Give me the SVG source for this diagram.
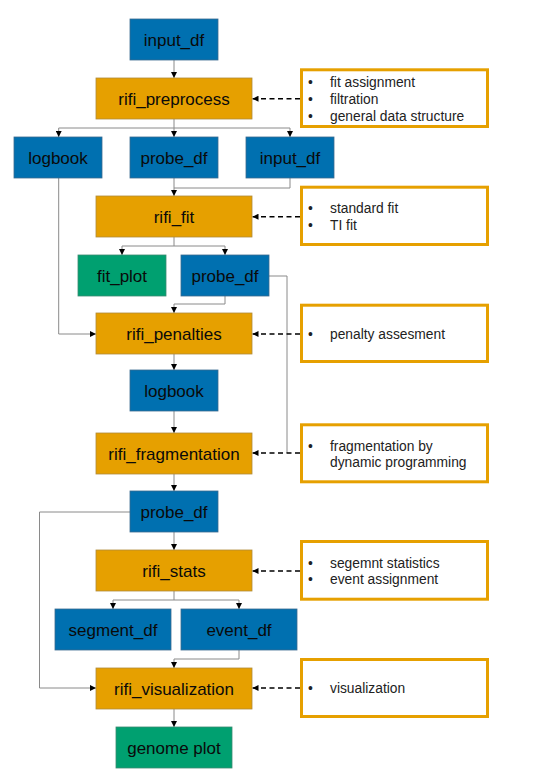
<svg xmlns="http://www.w3.org/2000/svg" width="534" height="781" viewBox="0 0 534 781">
<defs>
<marker id="ah" viewBox="0 0 10 10" refX="10" refY="5" markerWidth="6" markerHeight="6" markerUnits="userSpaceOnUse" orient="auto">
<path d="M0,0 L10,5 L0,10 z" fill="#000"/>
</marker>
<style>
.blue{fill:#0070B0;stroke:#3A6A90;stroke-width:0.8}
.orange{fill:#E6A000;stroke:#B08A3A;stroke-width:0.8}
.green{fill:#00A070;stroke:#3A8A70;stroke-width:0.8}
.side{fill:#fff;stroke:#E6A000;stroke-width:3}
.lbl{font-family:"Liberation Sans",Arial,sans-serif;font-size:17px;fill:#0a0a0a;text-anchor:middle}
.st{font-family:"Liberation Sans",Arial,sans-serif;font-size:13.8px;fill:#222}
.c{fill:none;stroke:#8a8a8a;stroke-width:1}
.ca{fill:none;stroke:#8a8a8a;stroke-width:1;marker-end:url(#ah)}
.d{fill:none;stroke:#000;stroke-width:1.5;stroke-dasharray:5,3.5;marker-end:url(#ah)}
</style>
</defs>
<g id="connectors">
<path class="ca" d="M174,60 V78"/>
<path class="c" d="M174,119 V128 M58.7,128 H290"/>
<path class="ca" d="M58.7,128 V137"/>
<path class="ca" d="M174,128 V137"/>
<path class="ca" d="M290,128 V137"/>
<path class="c" d="M174,178 V188 M290,178 V188 H174"/>
<path class="ca" d="M174,188 V196"/>
<path class="c" d="M174,237 V246 M122,246 H225"/>
<path class="ca" d="M122,246 V255"/>
<path class="ca" d="M225,246 V255"/>
<path class="c" d="M225,296 V304 H174"/>
<path class="ca" d="M174,304 V313"/>
<path class="ca" d="M58.7,178 V334 H96"/>
<path class="c" d="M269,276 H287 V453"/>
<path class="ca" d="M174,354 V370"/>
<path class="ca" d="M174,411 V433"/>
<path class="ca" d="M174,474 V491"/>
<path class="ca" d="M130,512 H39.5 V688 H96"/>
<path class="ca" d="M174,532 V550"/>
<path class="c" d="M174,591 V600 M113,600 H239"/>
<path class="ca" d="M113,600 V609"/>
<path class="ca" d="M239,600 V609"/>
<path class="c" d="M239,650 V659 H174"/>
<path class="ca" d="M174,659 V668"/>
<path class="ca" d="M174,708 V727"/>
<path class="d" d="M300,98.7 H252.5"/>
<path class="d" d="M300,216.7 H252.5"/>
<path class="d" d="M300,334 H252.5"/>
<path class="d" d="M300,453 H252.5"/>
<path class="d" d="M300,571 H252.5"/>
<path class="d" d="M300,688 H252.5"/>
</g>
<g id="input_df"><rect class="blue" x="130" y="19" width="88" height="41"/><text class="lbl" x="174" y="45.5">input_df</text></g>
<g id="rifi_preprocess"><rect class="orange" x="96" y="78" width="156" height="41"/><text class="lbl" x="174" y="104.5">rifi_preprocess</text></g>
<g id="logbook"><rect class="blue" x="14" y="137" width="88" height="41"/><text class="lbl" x="58" y="163.5">logbook</text></g>
<g id="probe_df"><rect class="blue" x="130" y="137" width="88" height="41"/><text class="lbl" x="174" y="163.5">probe_df</text></g>
<g id="input_df2"><rect class="blue" x="246" y="137" width="88" height="41"/><text class="lbl" x="290" y="163.5">input_df</text></g>
<g id="rifi_fit"><rect class="orange" x="96" y="196" width="156" height="41"/><text class="lbl" x="174" y="222.5">rifi_fit</text></g>
<g id="fit_plot"><rect class="green" x="78" y="255" width="88" height="41"/><text class="lbl" x="122" y="281.5">fit_plot</text></g>
<g id="probe_df2"><rect class="blue" x="181" y="255" width="88" height="41"/><text class="lbl" x="225" y="281.5">probe_df</text></g>
<g id="rifi_penalties"><rect class="orange" x="96" y="313" width="156" height="41"/><text class="lbl" x="174" y="339.5">rifi_penalties</text></g>
<g id="logbook2"><rect class="blue" x="130" y="370" width="88" height="41"/><text class="lbl" x="174" y="396.5">logbook</text></g>
<g id="rifi_fragmentation"><rect class="orange" x="96" y="433" width="156" height="41"/><text class="lbl" x="174" y="459.5">rifi_fragmentation</text></g>
<g id="probe_df3"><rect class="blue" x="130" y="491" width="88" height="41"/><text class="lbl" x="174" y="517.5">probe_df</text></g>
<g id="rifi_stats"><rect class="orange" x="96" y="550" width="156" height="41"/><text class="lbl" x="174" y="576.5">rifi_stats</text></g>
<g id="segment_df"><rect class="blue" x="55" y="609" width="116" height="41"/><text class="lbl" x="113" y="635.5">segment_df</text></g>
<g id="event_df"><rect class="blue" x="181" y="609" width="116" height="41"/><text class="lbl" x="239" y="635.5">event_df</text></g>
<g id="rifi_visualization"><rect class="orange" x="96" y="668" width="156" height="41"/><text class="lbl" x="174" y="694.5">rifi_visualization</text></g>
<g id="genome_plot"><rect class="green" x="116" y="727" width="116" height="41"/><text class="lbl" x="174" y="753.5">genome plot</text></g>
<g id="note_preprocess"><rect class="side" x="301.5" y="69.8" width="186" height="56.7"/>
<text class="st" x="308" y="87">•</text><text class="st" x="330" y="87">fit assignment</text>
<text class="st" x="308" y="104">•</text><text class="st" x="330" y="104">filtration</text>
<text class="st" x="308" y="121">•</text><text class="st" x="330" y="121">general data structure</text></g>
<g id="note_fit"><rect class="side" x="301.5" y="187.2" width="186" height="57.3"/>
<text class="st" x="308" y="213.3">•</text><text class="st" x="330" y="213.3">standard fit</text>
<text class="st" x="308" y="230">•</text><text class="st" x="330" y="230">TI fit</text></g>
<g id="note_penalties"><rect class="side" x="301.5" y="305.2" width="186" height="56.3"/>
<text class="st" x="308" y="339">•</text><text class="st" x="330" y="339">penalty assesment</text></g>
<g id="note_fragmentation"><rect class="side" x="301.5" y="424.8" width="186" height="57"/>
<text class="st" x="308" y="451">•</text><text class="st" x="330" y="451">fragmentation by</text>
<text class="st" x="330" y="467.3">dynamic programming</text></g>
<g id="note_stats"><rect class="side" x="301.5" y="541.5" width="186" height="57.7"/>
<text class="st" x="308" y="567.7">•</text><text class="st" x="330" y="567.7">segemnt statistics</text>
<text class="st" x="308" y="584.3">•</text><text class="st" x="330" y="584.3">event assignment</text></g>
<g id="note_visualization"><rect class="side" x="301.5" y="659.5" width="186" height="57"/>
<text class="st" x="308" y="693">•</text><text class="st" x="330" y="693">visualization</text></g>
</svg>
